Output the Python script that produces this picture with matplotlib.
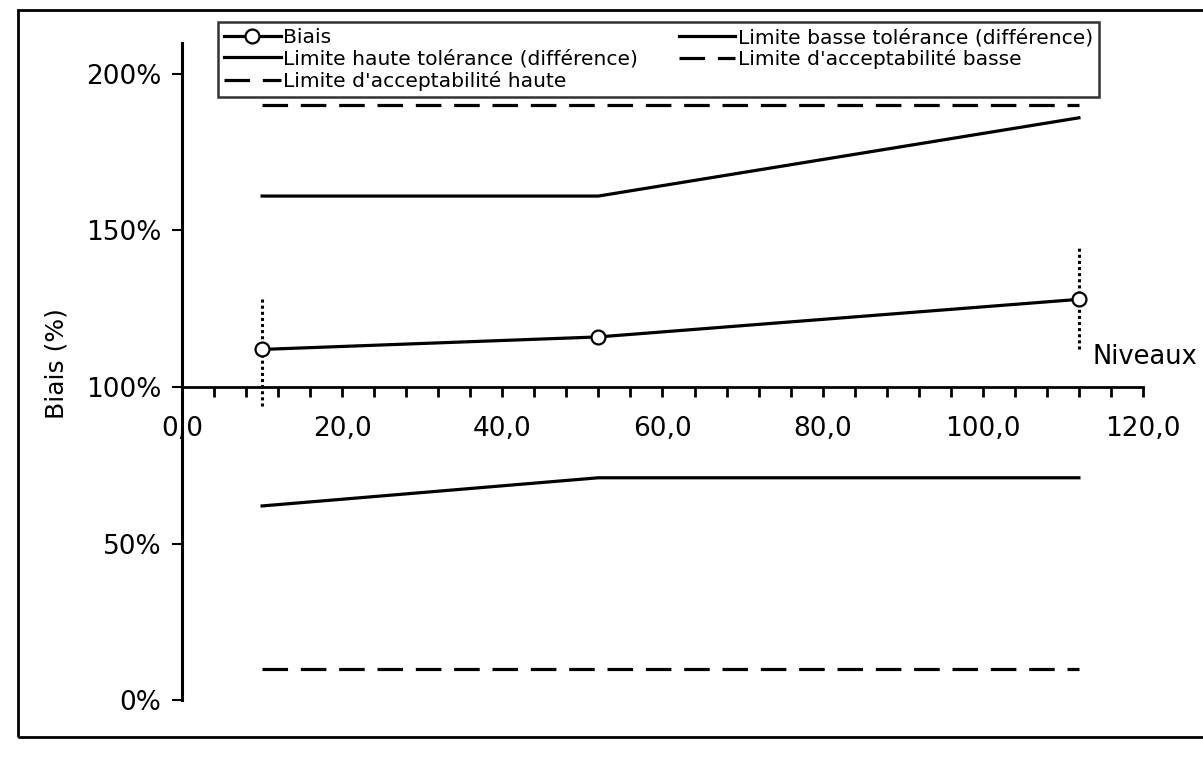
##plotting
import matplotlib
matplotlib.use("Agg")
from matplotlib import pyplot as plt
from matplotlib.ticker import FixedLocator, FuncFormatter
from matplotlib.patches import Rectangle

plt.rcParams['font.family'] = ['DejaVu Sans']

##data
niveaux = [10, 52, 112]
biais = [1.12, 1.16, 1.28]
lim_haute_tol = [1.61, 1.61, 1.86]
lim_basse_tol = [0.62, 0.71, 0.71]
acc_haute = [1.90, 1.90, 1.90]
acc_basse = [0.10, 0.10, 0.10]

#vertical dotted markers at the first and last level (low, high)
range_x = [10, 112]
range_low = [0.94, 1.12]
range_high = [1.28, 1.45]

x_major = [0, 20, 40, 60, 80, 100, 120]
x_minor = list(range(0, 121, 4))
y_ticks = [0.0, 0.5, 1.0, 1.5, 2.0]

labels = ["Biais",
          "Limite haute tolérance (différence)",
          "Limite d'acceptabilité haute",
          "Limite basse tolérance (différence)",
          "Limite d'acceptabilité basse"]


fig = plt.figure(figsize=(12.03, 7.58), dpi=100)
ax = fig.add_axes([0.1513, 0.0765, 0.7988, 0.8672])

lw = 2.3
dash = (0, (8, 4))

h1, = ax.plot(niveaux, biais, color='black', lw=lw, marker='o', markersize=10,
              markerfacecolor='white', markeredgecolor='black', markeredgewidth=1.6,
              zorder=4)
h2, = ax.plot(niveaux, lim_haute_tol, color='black', lw=lw)
h3, = ax.plot(niveaux, acc_haute, color='black', lw=lw, linestyle=dash)
h4, = ax.plot(niveaux, lim_basse_tol, color='black', lw=lw)
h5, = ax.plot(niveaux, acc_basse, color='black', lw=lw, linestyle=dash)

ax.vlines(range_x, range_low, range_high, colors='black', linestyles=(0, (1, 1)), lw=2.2)

##axes: x axis crosses at 100%
ax.set_xlim(0, 120)
ax.set_ylim(0, 2.1)
ax.spines['top'].set_visible(False)
ax.spines['right'].set_visible(False)
ax.spines['bottom'].set_position(('data', 1.0))
ax.spines['bottom'].set_linewidth(2)
ax.spines['left'].set_linewidth(2.2)

ax.xaxis.set_major_locator(FixedLocator(x_major))
ax.xaxis.set_minor_locator(FixedLocator(x_minor))
ax.xaxis.set_major_formatter(FuncFormatter(lambda v, p: "{:.1f}".format(v).replace(".", ",")))
ax.yaxis.set_major_locator(FixedLocator(y_ticks))
ax.yaxis.set_major_formatter(FuncFormatter(lambda v, p: "{:.0f}%".format(v * 100)))

ax.tick_params(axis='x', which='both', direction='out', length=7, width=2, pad=14, labelsize=19)
ax.tick_params(axis='y', which='major', direction='out', length=7, width=1.5, pad=8, labelsize=19)

fig.text(0.047, 0.52, "Biais (%)", rotation=90, fontsize=18, ha='center', va='center')
fig.text(0.908, 0.529, "Niveaux", fontsize=18.5, ha='left', va='center')

##legend, 2 columns in a square box
leg = fig.legend([h1, h2, h3, h4, h5], labels, ncol=2, loc='upper left',
                 bbox_to_anchor=(0.1812, 0.971), fontsize=14.6, frameon=True,
                 fancybox=False, handlelength=2.8, handletextpad=0.12,
                 columnspacing=2.0, labelspacing=0.12, borderpad=0.3,
                 borderaxespad=0)
leg.get_frame().set_edgecolor('black')
leg.get_frame().set_linewidth(1.8)

##border round the chart area
fig.patches.append(Rectangle((0.015, 0.028), 1.0, 0.959, transform=fig.transFigure,
                             fill=False, edgecolor='black', lw=2))

fig.savefig("out.png", dpi=100)
